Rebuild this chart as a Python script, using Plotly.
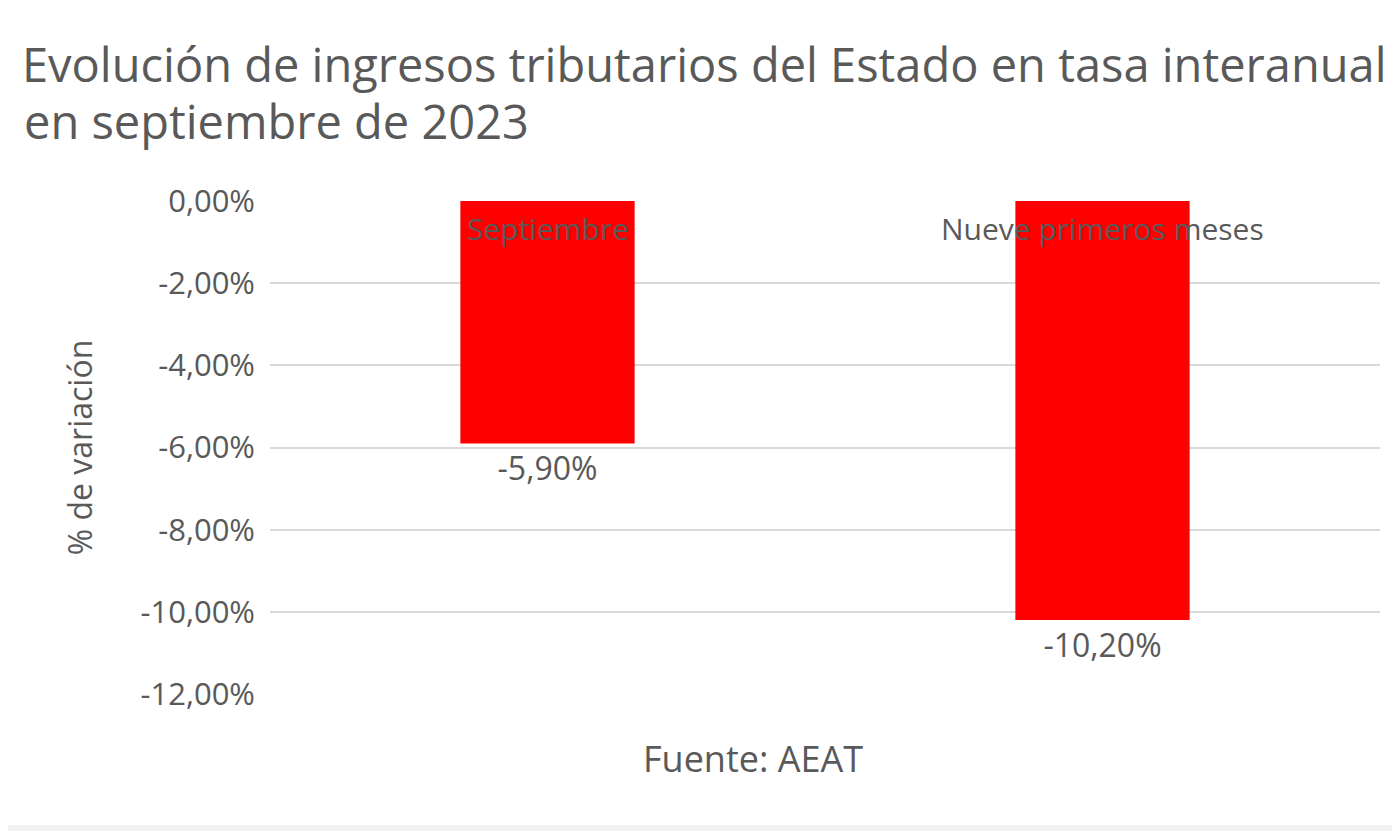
import plotly.graph_objects as go

# data
categorias = ["Septiembre", "Nueve primeros meses"]
variacion = [-5.90, -10.20]
etiquetas = ["-5,90%", "-10,20%"]
ticks = [0, -2, -4, -6, -8, -10, -12]
ticks_txt = ["0,00%", "-2,00%", "-4,00%", "-6,00%", "-8,00%", "-10,00%", "-12,00%"]

gris = "#595959"
fuente = "Open Sans"

fig = go.Figure(go.Bar(
    x=categorias,
    y=variacion,
    text=etiquetas,
    textposition="outside",
    textfont=dict(size=32, color=gris, family=fuente),
    marker=dict(color="#ff0000", line=dict(width=0)),
    cliponaxis=False,
    hoverinfo="skip"))

# category names sit just under the zero line, over the bars
for c in categorias:
    fig.add_annotation(x=c, y=0, text=c, showarrow=False, yanchor="top", yshift=-5,
                       font=dict(size=30, color=gris, family=fuente))

# second line of the title (tighter line spacing than plotly's <br>)
fig.add_annotation(x=-0.2234, xref="paper", xanchor="left", y=1.162, yref="paper",
                   yanchor="middle", text="en septiembre de 2023", showarrow=False,
                   font=dict(size=47, color=gris, family=fuente))

fig.add_annotation(x=0.435, xref="paper", y=-0.13, yref="paper", yanchor="middle",
                   text="Fuente: AEAT", showarrow=False,
                   font=dict(size=36, color=gris, family=fuente))

# light strip at the very bottom
fig.add_shape(type="rect", xref="paper", yref="paper", x0=-0.3, x1=1.1, y0=-0.28, y1=-0.266,
              fillcolor="#f2f2f2", line=dict(width=0), layer="below")

fig.update_layout(
    width=1384, height=823,
    margin=dict(l=262, r=12, t=193, b=137),
    paper_bgcolor="white", plot_bgcolor="white",
    font=dict(family=fuente, color=gris),
    title=dict(text="Evolución de ingresos tributarios del Estado en tasa interanual",
               x=0.0101, xanchor="left", y=0.93, yanchor="middle",
               font=dict(size=47, color=gris, family=fuente)),
    bargap=0.686,
    showlegend=False,
    xaxis=dict(showticklabels=False, showgrid=False, zeroline=False, showline=False),
    yaxis=dict(range=[-12, 0], tickvals=ticks, ticktext=ticks_txt,
               showgrid=True, gridcolor="#d9d9d9", gridwidth=2, zeroline=False,
               tickfont=dict(size=31, color=gris), ticks="", ticklabelstandoff=14,
               title=dict(text="% de variación", font=dict(size=32, color=gris), standoff=38)))

fig.write_html("out.html")
